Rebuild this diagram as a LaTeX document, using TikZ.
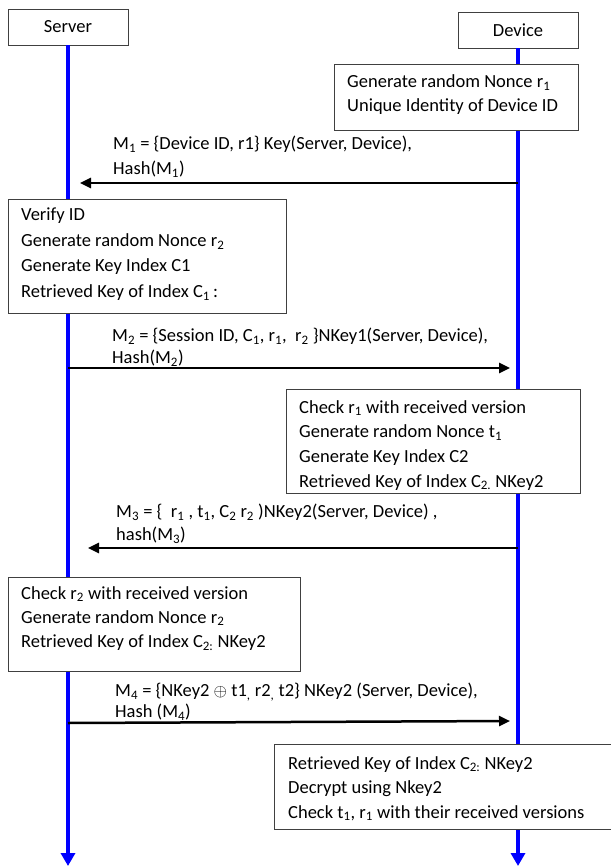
\documentclass[tikz,border=0pt]{standalone}
\usepackage{fontspec}
\setmainfont{Carlito}
\usetikzlibrary{arrows.meta,positioning}
\begin{document}
\begin{tikzpicture}[x=1pt,y=-1pt,
	every node/.style={font=\fontsize{18.5}{24.5}\selectfont},
	actor/.style={draw=black!75,line width=0.8pt,minimum width=120pt,minimum height=36pt,inner sep=0pt},
	stepbox/.style={draw=black!75,line width=0.8pt,fill=white,anchor=north west,inner sep=0pt},
	notes/.style={align=left,inner sep=0pt,font=\fontsize{18.5}{#1}\selectfont,
		execute at begin node={\rule{0pt}{16pt}}},
	notes/.default=24.5,
	life/.style={blue,line width=4pt,-{Triangle[width=14pt,length=13pt]}},
	msg/.style={line width=2.5pt,-{Triangle[width=10pt,length=11pt]}}]
	\useasboundingbox (0,0) rectangle (610,866);
	\node[actor] (srv) at (68,27) {Server};
	\node[actor] (dev) at (518,30) {Device};
	\coordinate (srvend) at (68,866);
	\coordinate (devend) at (518,866);
	\draw[life] (srv.south) -- (srvend);
	\draw[life] (dev.south) -- (devend);

	\node[stepbox,minimum width=244pt,minimum height=66pt] (nonce) at (334,64) {};
	\node[notes=23.5,below right=10.5pt and 13pt of nonce.north west] (noncetext) {Generate random Nonce r\textsubscript{1}\\Unique Identity of Device ID};

	\coordinate (d1) at (518,183);
	\coordinate (s1) at (80,183);
	\draw[msg] (d1) -- (s1);
	\node[notes=25,anchor=north west] (m1) at (113,136) {M\textsubscript{1} = \{Device ID, r1\} Key(Server, Device),\\Hash(M\textsubscript{1})};

	\node[stepbox,minimum width=278pt,minimum height=114pt] (verify) at (8,199) {};
	\node[notes=25.5,below right=9pt and 13pt of verify.north west] (verifytext) {Verify ID\\Generate random Nonce r\textsubscript{2}\\Generate Key Index C1\\Retrieved Key of Index C\textsubscript{1}\,:};

	\coordinate (s2) at (68,368);
	\coordinate (d2) at (510,368);
	\draw[msg] (s2) -- (d2);
	\node[notes=22,anchor=north west] (m2) at (112,328) {M\textsubscript{2} = \{Session ID, C\textsubscript{1}, r\textsubscript{1},\ \ r\textsubscript{2} \}NKey1(Server, Device),\\Hash(M\textsubscript{2})};

	\node[stepbox,minimum width=294pt,minimum height=104pt] (checkone) at (286,389) {};
	\node[notes=24.7,below right=11pt and 13pt of checkone.north west] (checkonetext) {Check r\textsubscript{1} with received version\\Generate random Nonce t\textsubscript{1}\\Generate Key Index C2\\Retrieved Key of Index C\textsubscript{2.} NKey2};

	\coordinate (d3) at (518,548);
	\coordinate (s3) at (88,548);
	\draw[msg] (d3) -- (s3);
	\node[notes=23,anchor=north west] (m3) at (116,504) {M\textsubscript{3} = \{\ \ r\textsubscript{1} , t\textsubscript{1}, C\textsubscript{2} r\textsubscript{2} )NKey2(Server, Device) ,\\hash(M\textsubscript{3})};

	\node[stepbox,minimum width=292pt,minimum height=94pt] (checktwo) at (8,577) {};
	\node[notes=24.2,below right=9pt and 13pt of checktwo.north west] (checktwotext) {Check r\textsubscript{2} with received version\\Generate random Nonce r\textsubscript{2}\\Retrieved Key of Index C\textsubscript{2:} NKey2};

	\coordinate (s4) at (68,723);
	\coordinate (d4) at (510,721);
	\draw[msg] (s4) -- (d4);
	\node[notes=21,anchor=north west] (m4) at (115,683) {M\textsubscript{4} = \{NKey2 $\oplus$ t1\textsubscript{,} r2\textsubscript{,} t2\} NKey2 (Server, Device),\\Hash (M\textsubscript{4})};

	\node[stepbox,minimum width=340pt,minimum height=85pt] (decrypt) at (274,744) {};
	\node[notes=24.5,below right=12pt and 14pt of decrypt.north west] (decrypttext) {Retrieved Key of Index C\textsubscript{2:} NKey2\\Decrypt using Nkey2\\Check t\textsubscript{1}, r\textsubscript{1} with their received versions};
\end{tikzpicture}
\end{document}
